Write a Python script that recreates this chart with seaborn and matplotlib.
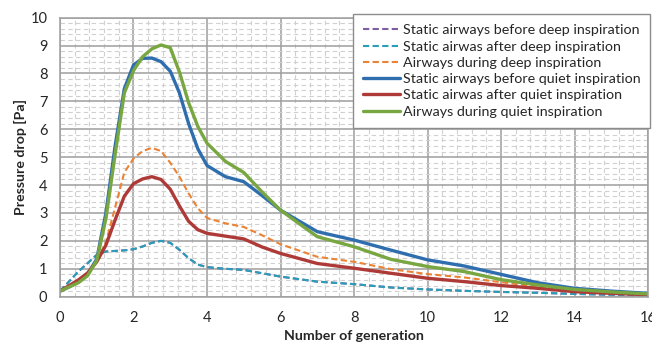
import numpy as np
import pandas as pd
import seaborn as sns
import matplotlib.pyplot as plt
from matplotlib.ticker import MultipleLocator

generation = [0, 0.25, 0.5, 0.75, 1, 1.25, 1.5, 1.75, 2, 2.25, 2.5, 2.75, 3, 3.25, 3.5, 3.75,
              4, 4.5, 5, 5.5, 6, 7, 8, 9, 10, 11, 12, 13, 14, 15, 16]

static_before_deep = [0.2, 0.55, 0.9, 1.2, 1.5, 1.62, 1.64, 1.66, 1.7, 1.8, 1.93, 2.0, 1.93, 1.68, 1.38, 1.15,
                      1.06, 1.0, 0.96, 0.84, 0.72, 0.54, 0.45, 0.33, 0.26, 0.21, 0.17, 0.14, 0.1, 0.07, 0.05]
static_after_deep = [0.2, 0.55, 0.9, 1.2, 1.5, 1.62, 1.64, 1.66, 1.7, 1.8, 1.93, 2.0, 1.93, 1.68, 1.38, 1.15,
                     1.06, 1.0, 0.96, 0.84, 0.72, 0.54, 0.45, 0.33, 0.26, 0.21, 0.17, 0.14, 0.1, 0.07, 0.05]
during_deep = [0.2, 0.4, 0.55, 0.8, 1.3, 1.95, 3.2, 4.45, 4.95, 5.22, 5.33, 5.22, 4.8, 4.3, 3.7, 3.17,
               2.82, 2.63, 2.5, 2.2, 1.88, 1.43, 1.25, 0.99, 0.81, 0.69, 0.52, 0.36, 0.22, 0.14, 0.08]
static_before_quiet = [0.2, 0.35, 0.55, 0.8, 1.35, 3.0, 5.4, 7.45, 8.3, 8.54, 8.55, 8.42, 8.08, 7.3, 6.2, 5.3,
                       4.7, 4.3, 4.12, 3.62, 3.1, 2.33, 2.03, 1.67, 1.32, 1.1, 0.8, 0.5, 0.3, 0.2, 0.12]
static_after_quiet = [0.2, 0.4, 0.6, 0.85, 1.25, 1.85, 2.75, 3.6, 4.05, 4.22, 4.3, 4.2, 3.85, 3.25, 2.7, 2.4,
                      2.27, 2.17, 2.07, 1.78, 1.55, 1.19, 1.02, 0.84, 0.66, 0.54, 0.4, 0.3, 0.18, 0.12, 0.07]
during_quiet = [0.2, 0.35, 0.5, 0.75, 1.3, 2.8, 5.1, 7.3, 8.1, 8.6, 8.88, 9.02, 8.92, 8.05, 6.95, 6.1,
                5.5, 4.85, 4.45, 3.75, 3.1, 2.15, 1.79, 1.34, 1.08, 0.9, 0.61, 0.42, 0.26, 0.17, 0.1]

labels = ["Static airways before deep inspiration", "Static airwas after deep inspiration",
          "Airways during deep inspiration", "Static airways before quiet inspiration",
          "Static airwas after quiet inspiration", "Airways during quiet inspiration"]
series = [static_before_deep, static_after_deep, during_deep,
          static_before_quiet, static_after_quiet, during_quiet]
colors = ["#7D5FA0", "#2A9DB8", "#EB8234", "#2F6EAE", "#AE3A38", "#78A641"]
styles = [(0, (3, 1.6)), (0, (3, 1.6)), (0, (3, 1.6)), "-", "-", "-"]
widths = [1.5, 1.5, 1.5, 2.4, 2.4, 2.4]

sns.set_style("white")
plt.rcParams['font.family'] = ['Lato', 'DejaVu Sans']

fig = plt.figure(figsize=(6.52, 3.45), dpi=100)
ax = fig.add_axes([0.092, 0.14, 0.902, 0.809])

for lab, vals, col, ls, lw in zip(labels, series, colors, styles, widths):
    df = pd.DataFrame({"gen": generation, "dp": vals})
    sns.lineplot(data=df, x="gen", y="dp", ax=ax, color=col, linestyle=ls,
                 linewidth=lw, label=lab)

ax.set_xlim(0, 16)
ax.set_ylim(0, 10)
ax.xaxis.set_major_locator(MultipleLocator(2))
ax.yaxis.set_major_locator(MultipleLocator(1))
ax.xaxis.set_minor_locator(MultipleLocator(0.4))
ax.yaxis.set_minor_locator(MultipleLocator(0.2))
ax.grid(which="major", color="#9E9E9E", linewidth=1.1)
ax.grid(which="minor", color="#D0D0D0", linewidth=0.8, linestyle=(0, (4, 3)))
ax.set_axisbelow(True)
ax.tick_params(which="minor", length=0)
ax.tick_params(which="major", length=3, width=1, color="#9E9E9E", labelsize=10.5)
ax.tick_params(axis="x", pad=7)
ax.tick_params(axis="y", pad=6)
for s in ax.spines.values():
    s.set_color("#9E9E9E")
    s.set_linewidth(1.1)

ax.set_xlabel("Number of generation", fontsize=10.2, fontweight="bold", labelpad=4)
ax.set_ylabel("Pressure drop [Pa]", fontsize=10.2, fontweight="bold")
ax.yaxis.set_label_coords(-0.056, 0.5)

leg = ax.legend(loc="upper right", bbox_to_anchor=(1.004, 1.012), borderaxespad=0,
                fontsize=10.3, frameon=True, fancybox=False, framealpha=1,
                handlelength=2.6, handletextpad=0.2, labelspacing=0.3,
                borderpad=0.7, edgecolor="#8C8C8C")
leg.get_frame().set_linewidth(1.0)

fig.savefig("out.png", dpi=100)
